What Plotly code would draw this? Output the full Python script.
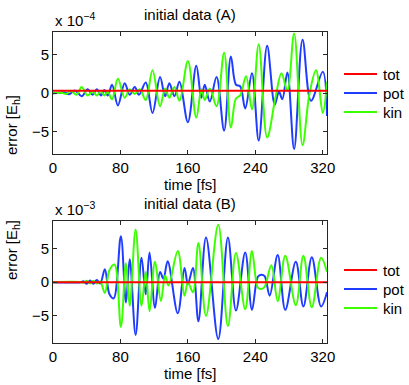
import plotly.graph_objects as go

# time axis ticks [fs]
time_ticks = [0, 80, 160, 240, 320]
err_ticks = [-5, 0, 5]

# initial data (A), values in units of 1e-4 Eh (extrema)
tA_pot = [0, 8, 14, 19, 26, 34, 41, 47, 52, 57, 61, 65, 70, 77, 85, 91, 97, 102, 110, 118,
          127, 133, 138, 144, 150, 160, 170, 176, 180, 186, 194, 203, 211, 217, 222, 228, 236, 244, 254, 263,
          268, 272, 278, 286, 296, 306, 320, 325]
vA_pot = [0, 0.05, 0.1, -0.15, 0.35, -0.4, 0.5, -0.2, 0.5, -0.3, 0.4, -0.3, 1.1, -1.6, 1.3, -0.2, 0.8, -0.2, 1.4, -2.6,
          2.1, -0.4, 1.3, -0.4, 1.5, -3.8, 3.6, -0.6, 1.1, -1.1, 2.1, -4.9, 4.8, 1.1, 0.9, -2.0, 2.6, -6.2, 6.2, -1.5,
          0.2, -0.8, 2.7, -7.3, 7.0, -1.0, 2.8, -3.0]
tA_kin = [0, 10, 16, 21, 28, 34, 41, 47, 52, 57, 61, 65, 70, 77, 85, 91, 97, 103, 110, 118,
          127, 133, 138, 144, 150, 160, 170, 176, 180, 186, 194, 203, 211, 217, 222, 229, 236, 244, 254, 264,
          271, 278, 286, 296, 304, 312, 320, 325]
vA_kin = [0, 0.05, -0.1, 0.3, -0.2, 0.8, -0.3, 0.2, -0.3, 0.3, -0.3, 0.2, -0.8, 1.9, -0.6, 0.5, -0.1, 0.5, -0.9, 3.0,
          -1.7, 0.6, -0.6, 0.8, -1.0, 4.2, -3.2, 0.5, -0.9, 0.6, -1.7, 5.3, -4.5, -0.7, -0.3, 2.2, -2.1, 6.4, -5.8, -0.5,
          2.6, 0.3, 7.8, -6.8, -0.2, 3.0, -2.6, 1.5]
tA_tot = [0, 80, 160, 240, 325]
vA_tot = [0.3, 0.3, 0.3, 0.3, 0.3]

# initial data (B), values in units of 1e-3 Eh
tB_pot = [0, 33, 36, 40, 44, 48, 52, 56, 61.5, 67, 72, 80.5, 86.5, 91, 98, 105, 110, 114.5, 121,
          127, 131, 136, 148, 156, 160, 166, 172.5, 181.5, 196, 207.5, 217, 228, 236, 243, 247,
          251, 257, 266.5, 275.5, 288, 297, 307, 318, 325]
vB_pot = [0, 0, 0.15, -0.25, 0.25, -0.25, 0.3, -0.2, 1.9, -1.8, -2.4, 6.8, -3.0, 3.4, -7.8, 3.6, -1.8, 4.4, -3.8,
          1.5, 0.5, 3.1, -4.6, 2.1, -0.3, 2.1, -5.8, 6.6, -8.4, 6.6, -4.2, 4.4, -4.1, 0.8, 1.1,
          0.9, -2.0, 4.0, -4.1, 3.0, -3.6, 3.7, -3.6, -1.5]
tB_kin = [0, 33, 36, 40, 44, 48, 52, 56, 61.5, 67, 73, 80.5, 86.5, 91, 98, 105, 110, 114.5, 121,
          128, 133, 137, 148, 156, 160, 166, 172.5, 181.5, 196, 207.5, 217, 228, 236, 243, 247,
          251, 259, 266.5, 275.5, 288, 297, 307, 318, 325]
vB_kin = [0, 0, -0.1, 0.2, -0.2, 0.2, -0.2, 0.1, -1.6, 1.8, 2.6, -6.6, 2.8, -3.5, 7.8, -3.5, 1.5, -4.3, 3.0,
          -2.8, 1.0, -0.5, 4.6, -2.0, 0.0, -1.5, 5.8, -5.0, 8.5, -6.5, 4.3, -4.0, 4.6, -0.8, -1.0,
          -0.7, 2.5, -2.8, 3.9, -3.4, 3.9, -3.7, 3.6, 1.5]
tB_tot = [0, 80, 160, 240, 325]
vB_tot = [0, 0, 0, 0, 0]

legend_names = ["tot", "pot", "kin"]

RED = "#ff0000"
BLUE = "#1f3cff"
GREEN = "#3cff00"
FONT = "Liberation Sans, Arial, sans-serif"

# plot box in screen pixels: x 53..327, y 32..343
PX_L, PX_R, PX_T, PX_B = 53, 327, 32, 343
def px(x):
    return (x - PX_L) / (PX_R - PX_L)
def py(y):
    return 1 - (y - PX_T) / (PX_B - PX_T)

fig = go.Figure()

def add_panel(xa, ya, t_pot, v_pot, t_kin, v_kin, t_tot, v_tot):
    fig.add_trace(go.Scatter(x=t_pot, y=v_pot, name="pot", mode="lines", line=dict(color=BLUE, width=2, shape="spline"),
                             xaxis=xa, yaxis=ya))
    fig.add_trace(go.Scatter(x=t_kin, y=v_kin, name="kin", mode="lines", line=dict(color=GREEN, width=2, shape="spline"),
                             xaxis=xa, yaxis=ya))
    fig.add_trace(go.Scatter(x=t_tot, y=v_tot, name="tot", mode="lines", line=dict(color=RED, width=2),
                             xaxis=xa, yaxis=ya))

add_panel("x", "y", tA_pot, vA_pot, tA_kin, vA_kin, tA_tot, vA_tot)
add_panel("x2", "y2", tB_pot, vB_pot, tB_kin, vB_kin, tB_tot, vB_tot)

axis_style = dict(showline=True, linecolor="#262626", linewidth=1, mirror="ticks", ticks="inside", ticklen=4,
                  tickcolor="#262626", showgrid=False, zeroline=False, tickfont=dict(size=15, color="black"))

top_dom = [py(154.3), 1.0]
bot_dom = [0.0, py(221.3)]

fig.update_layout(
    width=409, height=385,
    margin=dict(l=PX_L, r=409 - PX_R, t=PX_T, b=385 - PX_B, autoexpand=False),
    paper_bgcolor="white", plot_bgcolor="white",
    font=dict(family=FONT, size=15, color="black"),
    showlegend=False,
    hovermode=False,
    xaxis=dict(domain=[0, 1], range=[0, 325], tickvals=time_ticks, anchor="y", **axis_style),
    yaxis=dict(domain=top_dom, range=[-8, 8], tickvals=err_ticks, ticktext=["\u22125", "0", "5"],
               anchor="x", **axis_style),
    xaxis2=dict(domain=[0, 1], range=[0, 325], tickvals=time_ticks, anchor="y2", **axis_style),
    yaxis2=dict(domain=bot_dom, range=[-9, 9], tickvals=err_ticks, ticktext=["\u22125", "0", "5"],
                anchor="x2", **axis_style),
)

annots = [
    dict(text="initial data (A)", x=0.5, y=top_dom[1], yshift=7, yanchor="bottom"),
    dict(text="initial data (B)", x=0.5, y=bot_dom[1], yshift=7, yanchor="bottom"),
    dict(text="x 10<sup>\u22124</sup>", x=0.0, y=top_dom[1], xanchor="left", yanchor="bottom", yshift=1),
    dict(text="x 10<sup>\u22123</sup>", x=0.0, y=bot_dom[1], xanchor="left", yanchor="bottom", yshift=1),
    dict(text="time [fs]", x=0.5, y=top_dom[0], yanchor="top", yshift=-20),
    dict(text="time [fs]", x=0.5, y=bot_dom[0], yanchor="top", yshift=-20),
    dict(text="error [E<sub>h</sub>]", x=px(12), y=py(93), textangle=-90, xanchor="center"),
    dict(text="error [E<sub>h</sub>]", x=px(12), y=py(282), textangle=-90, xanchor="center"),
]

# hand-placed legends to the right of each panel
colors = [RED, BLUE, GREEN]
for rows in ([74, 93, 112], [270, 289, 308]):
    for name, col, yy in zip(legend_names, colors, rows):
        fig.add_shape(type="line", xref="paper", yref="paper", x0=px(344), x1=px(377), y0=py(yy), y1=py(yy),
                      line=dict(color=col, width=2))
        annots.append(dict(text=name, x=px(381), y=py(yy), xanchor="left", yanchor="middle"))

for a in annots:
    a.update(xref="paper", yref="paper", showarrow=False, font=dict(size=15, family=FONT))
    fig.add_annotation(**a)

# page body margin would push the 409x385 figure off the window
fig.write_html("out.html", config={"displayModeBar": False},
               post_script="document.body.style.margin='0';document.body.style.overflow='hidden';")
